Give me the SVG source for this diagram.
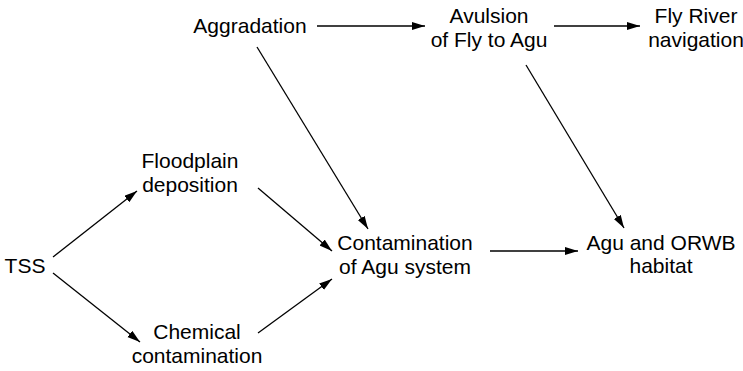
<svg xmlns="http://www.w3.org/2000/svg" width="743" height="371" viewBox="0 0 743 371">
<style>
text{font-family:"Liberation Sans",Arial,sans-serif;font-size:21px;fill:#000;text-anchor:middle}
.c line{stroke:#000;stroke-width:1.3;marker-end:url(#ah)}
</style>
<defs>
<marker id="ah" markerUnits="userSpaceOnUse" markerWidth="14" markerHeight="10" refX="13" refY="4" orient="auto">
<path d="M0,0 L13,4 L0,8 Z" fill="#000"/>
</marker>
</defs>
<rect width="743" height="371" fill="#fff"/>
<g id="aggradation"><text x="250" y="33">Aggradation</text></g>
<g id="avulsion"><text x="489" y="23">Avulsion</text><text x="489" y="46.5">of Fly to Agu</text></g>
<g id="flyriver"><text x="696" y="23">Fly River</text><text x="696" y="46.5">navigation</text></g>
<g id="tss"><text x="25" y="273">TSS</text></g>
<g id="floodplain"><text x="190" y="168">Floodplain</text><text x="190" y="191.5">deposition</text></g>
<g id="chemical"><text x="197" y="339">Chemical</text><text x="197" y="362.5">contamination</text></g>
<g id="contamination"><text x="405" y="250">Contamination</text><text x="405" y="273.5">of Agu system</text></g>
<g id="habitat"><text x="661" y="249.5">Agu and ORWB</text><text x="661" y="273">habitat</text></g>
<g class="c" id="connectors">
<line x1="317" y1="26" x2="425" y2="26"/>
<line x1="554" y1="26" x2="640" y2="26"/>
<line x1="257" y1="47" x2="368" y2="229"/>
<line x1="526" y1="65" x2="624" y2="228"/>
<line x1="53" y1="257" x2="137" y2="191"/>
<line x1="53" y1="273" x2="140" y2="342"/>
<line x1="258" y1="188" x2="332" y2="251"/>
<line x1="258" y1="333" x2="332" y2="279"/>
<line x1="490" y1="251" x2="578" y2="251"/>
</g>
</svg>
